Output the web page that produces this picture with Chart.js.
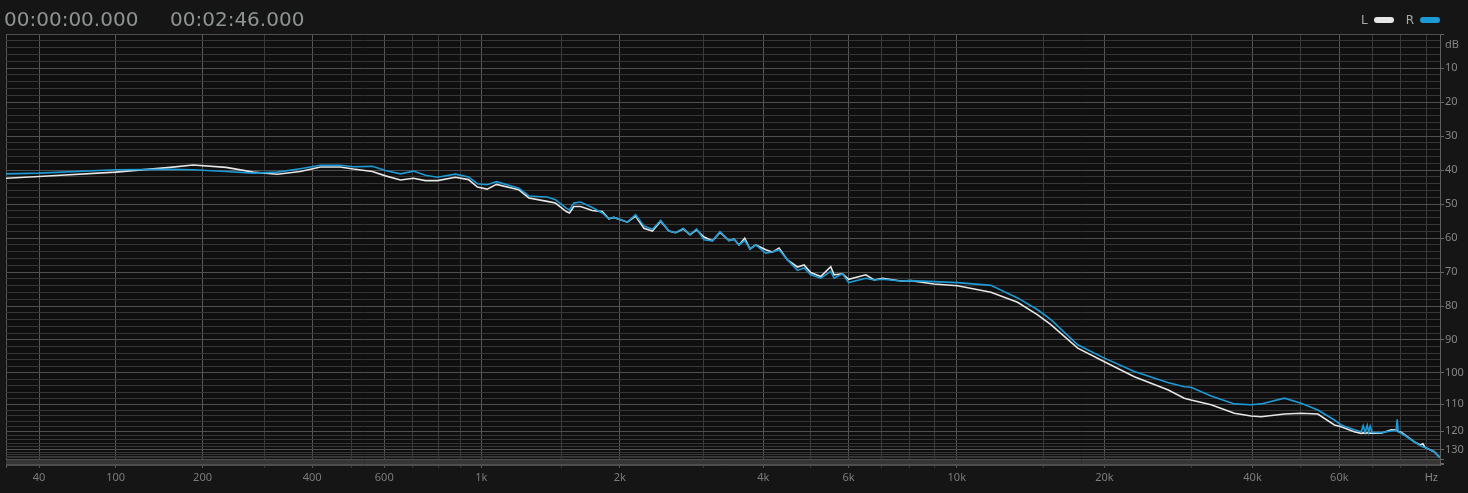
<!DOCTYPE html>
<html>
<head>
<meta charset="utf-8">
<title>Spectrum</title>
<script src="https://cdn.jsdelivr.net/npm/chart.js@4.4.1/dist/chart.umd.min.js"></script>
<style>
  html, body { margin: 0; padding: 0; background: #151515; }
  #wrap { position: relative; width: 1468px; height: 493px; overflow: hidden; }
  canvas { position: absolute; left: 0; top: 0; }
  .time { position: absolute; top: 9px; font: 20px/20px "DejaVu Sans", sans-serif; color: #8e9490; white-space: nowrap; }
  #legend { position: absolute; right: 28px; top: 14px; display: flex; align-items: center;
            font: 12px/12px "DejaVu Sans", sans-serif; color: #a8a8a8; }
  #legend .pill { width: 20px; height: 6px; border-radius: 3px; margin-left: 6px; }
  #legend .item { display: flex; align-items: center; margin-left: 12px; }
</style>
</head>
<body>
<div id="wrap">
  <canvas id="spectrum" width="1468" height="493"></canvas>
  <div class="time" style="left:4px">00:00:00.000</div>
  <div class="time" style="left:170px">00:02:46.000</div>
  <div id="legend"></div>
</div>
<script>
// frequency (Hz) and level below full scale (dB)
const freqHz = [
    20, 40, 100, 158, 187, 235, 280, 325, 373, 420, 470, 506, 562, 604, 655, 702, 748, 797, 875, 937,
    981, 1031, 1081, 1211, 1274, 1396, 1455, 1535, 1560, 1594, 1648, 1746, 1834, 1895, 1942, 2074, 2159, 2249, 2343, 2439,
    2539, 2623, 2722, 2811, 2903, 3008, 3132, 3249, 3393, 3475, 3560, 3658, 3752, 3856, 4045, 4176, 4310, 4486, 4705, 4855,
    5012, 5256, 5512, 5599, 5827, 6000, 6509, 6770, 7045, 7682, 8054, 8985, 10036, 11742, 13309, 14624, 15563, 17648, 20000, 23011,
    26909, 29072, 30000, 32956, 36743, 39729, 41632, 46420, 50193, 54271, 58649, 60512, 64313, 66452, 67075, 67700, 68342, 68800, 69309, 69900,
    72962, 76448, 78200, 78623, 79000, 80106, 85109, 87500, 88644, 89500, 93446, 96000
];
const levelL = [
    42.4, 41.9, 40.6, 39.2, 38.5, 39.2, 40.6, 41.2, 40.4, 39.1, 39.1, 39.7, 40.4, 41.7, 42.9, 42.4, 43.1, 43.1, 42.1, 42.8,
    45.0, 45.6, 44.2, 45.8, 48.2, 49.2, 49.7, 52.2, 52.6, 50.7, 50.7, 51.9, 52.2, 54.3, 53.9, 55.3, 53.5, 57.1, 57.9, 55.0,
    57.9, 58.4, 57.3, 59.0, 57.6, 59.7, 60.8, 58.3, 60.7, 60.3, 62.0, 60.0, 63.2, 62.0, 63.4, 64.1, 62.9, 66.4, 68.5, 67.9,
    70.1, 71.3, 68.4, 70.8, 70.5, 72.1, 70.8, 72.3, 71.8, 72.6, 72.5, 73.5, 74.0, 75.9, 78.9, 82.6, 85.5, 92.5, 96.6, 101.2,
    105.3, 108.0, 108.6, 110.2, 113.1, 114.1, 114.4, 113.4, 113.1, 113.4, 117.5, 118.2, 120.3, 121.0, 120.8, 121.0, 120.8, 121.0, 120.9, 121.0,
    121.0, 119.5, 119.6, 119.8, 120.2, 120.5, 125.1, 127.0, 126.3, 128.5, 131.6, 137.7
];
const levelR = [
    41.1, 40.9, 39.9, 39.8, 39.9, 40.4, 40.9, 40.6, 39.6, 38.6, 38.6, 39.0, 38.9, 40.1, 41.1, 40.3, 41.5, 42.1, 41.2, 42.0,
    44.0, 44.3, 43.4, 45.3, 47.6, 47.9, 48.7, 51.2, 51.7, 49.7, 49.4, 51.0, 52.6, 54.3, 53.9, 55.3, 53.1, 56.4, 57.4, 54.8,
    57.9, 58.4, 57.1, 59.0, 57.3, 60.5, 60.8, 58.1, 60.7, 60.3, 62.0, 60.7, 63.2, 62.0, 64.4, 64.1, 63.4, 66.4, 69.5, 68.8,
    70.8, 71.8, 69.8, 71.8, 70.5, 73.1, 71.8, 72.3, 72.1, 72.6, 72.5, 72.8, 73.1, 73.9, 77.6, 81.1, 84.0, 91.5, 95.5, 99.6,
    103.0, 104.3, 104.5, 107.3, 109.9, 110.2, 109.9, 108.0, 109.7, 112.0, 115.6, 117.5, 119.5, 120.3, 117.8, 120.5, 117.6, 120.5, 118.0, 120.5,
    120.7, 120.0, 119.8, 115.3, 120.3, 121.0, 125.1, 127.2, 128.2, 128.6, 131.6, 137.7
];

// axis ticks
const freqGrid = [20, 40, 100, 200, 300, 400, 500, 600, 700, 800, 900, 1000, 1500, 2000, 3000, 4000, 5000, 6000, 7000, 8000, 9000,
    10000, 15000, 20000, 30000, 40000, 50000, 60000, 70000, 80000, 90000];
const freqTickValues = [40, 100, 200, 400, 600, 1000, 2000, 4000, 6000, 10000, 20000, 40000, 60000];
const freqTickText = ['40', '100', '200', '400', '600', '1k', '2k', '4k', '6k', '10k', '20k', '40k', '60k'];
const levelTickValues = [10, 20, 30, 40, 50, 60, 70, 80, 90, 100, 110, 120, 130];
const levelGridStep = 2;
const levelGridMax = 160;

const FREQ_OFFSET = 100;      // the analyser uses log(f + 100) on the x axis
const AMP_FLOOR = 4.634e-7;   // and log(amplitude + floor) on the y axis

const levelWarp = db => -Math.log10(Math.pow(10, -db / 20) + AMP_FLOOR);

class SpectrumFreqScale extends Chart.LinearScale {
    static id = 'spectrumFreq';
    static defaults = {};
    buildTicks() {
        return freqGrid.map(v => ({ value: v }));
    }
    configure() {
        super.configure();
        this._t0 = Math.log10(this.min + FREQ_OFFSET);
        this._t1 = Math.log10(this.max + FREQ_OFFSET);
    }
    getPixelForValue(v) {
        return this.getPixelForDecimal((Math.log10(v + FREQ_OFFSET) - this._t0) / (this._t1 - this._t0));
    }
    getValueForPixel(p) {
        return Math.pow(10, this._t0 + this.getDecimalForPixel(p) * (this._t1 - this._t0)) - FREQ_OFFSET;
    }
}

class SpectrumLevelScale extends Chart.LinearScale {
    static id = 'spectrumLevel';
    static defaults = {};
    buildTicks() {
        const ticks = [];
        for (let v = 0; v <= levelGridMax; v += levelGridStep) ticks.push({ value: v });
        return ticks;
    }
    configure() {
        super.configure();
        this._t0 = levelWarp(this.min);
        this._t1 = levelWarp(this.max);
    }
    getPixelForValue(v) {
        return this.getPixelForDecimal((levelWarp(v) - this._t0) / (this._t1 - this._t0));
    }
    getValueForPixel(p) {
        const t = this._t0 + this.getDecimalForPixel(p) * (this._t1 - this._t0);
        return -20 * Math.log10(Math.pow(10, -t) - AMP_FLOOR);
    }
}

Chart.register(SpectrumFreqScale, SpectrumLevelScale);

const plotBackground = {
    id: 'plotBackground',
    beforeDraw(chart) {
        const { ctx, chartArea: a } = chart;
        ctx.save();
        ctx.fillStyle = '#0f0f0f';
        ctx.fillRect(a.left, a.top, a.right - a.left, a.bottom - a.top);
        ctx.restore();
    }
};

const unitLabels = {
    id: 'unitLabels',
    afterDraw(chart) {
        const { ctx, chartArea, scales } = chart;
        ctx.save();
        ctx.font = '11px "Noto Sans"';
        ctx.fillStyle = '#858585';
        ctx.textBaseline = 'middle';
        ctx.textAlign = 'left';
        ctx.fillText('dB', scales.y.left + 5, chartArea.top + 11);
        ctx.textAlign = 'right';
        ctx.fillText('Hz', chartArea.right - 2, chartArea.bottom + 13);
        ctx.restore();
    }
};

const axisFont = { family: 'Noto Sans', size: 11 };
const isFreqMajor = c => c.tick && (c.tick.value === 20 || freqTickValues.includes(c.tick.value));
const isLevelMajor = c => c.tick && c.tick.value % 10 === 0;

const series = [
    { label: 'L', values: levelL, color: '#e6e6e6', order: 1 },
    { label: 'R', values: levelR, color: '#1c9ad6', order: 0 }
];

const chart = new Chart(document.getElementById('spectrum'), {
    type: 'line',
    data: {
        datasets: series.map(s => ({
            label: s.label,
            data: freqHz.map((f, i) => ({ x: f, y: s.values[i] })),
            borderColor: s.color,
            backgroundColor: s.color,
            borderWidth: 1.6,
            pointRadius: 0,
            fill: false,
            order: s.order
        }))
    },
    options: {
        responsive: false,
        animation: false,
        devicePixelRatio: 1,
        layout: { padding: { left: 6, top: 34, right: 0, bottom: 0 } },
        plugins: { legend: { display: false }, tooltip: { enabled: false } },
        scales: {
            x: {
                type: 'spectrumFreq',
                position: 'bottom',
                min: 20,
                max: 96000,
                afterFit: s => { s.height = 28; },
                grid: {
                    color: c => isFreqMajor(c) ? '#575757' : '#3a3a3a',
                    tickColor: c => isFreqMajor(c) ? '#575757' : '#3a3a3a',
                    tickLength: 3
                },
                border: { color: '#4c4c4c' },
                ticks: {
                    autoSkip: false,
                    maxRotation: 0,
                    padding: 3,
                    color: '#7c7c7c',
                    font: axisFont,
                    callback: v => {
                        const i = freqTickValues.indexOf(v);
                        return i < 0 ? '' : freqTickText[i];
                    }
                }
            },
            y: {
                type: 'spectrumLevel',
                position: 'right',
                reverse: true,
                min: 0,
                max: 200,
                afterFit: s => { s.width = 28; },
                grid: {
                    color: c => isLevelMajor(c) ? '#4f4f4f' : '#363636',
                    tickColor: c => isLevelMajor(c) ? '#666666' : 'transparent',
                    tickLength: 4
                },
                border: { color: '#5e5e5e' },
                ticks: {
                    autoSkip: false,
                    padding: 1,
                    color: '#858585',
                    font: axisFont,
                    callback: v => levelTickValues.includes(v) ? String(v) : ''
                }
            }
        }
    },
    plugins: [plotBackground, unitLabels]
});

// legend: text first, then a rounded swatch, like the analyser
const legend = document.getElementById('legend');
chart.data.datasets.forEach(ds => {
    const item = document.createElement('span');
    item.className = 'item';
    const text = document.createElement('span');
    text.textContent = ds.label;
    const pill = document.createElement('span');
    pill.className = 'pill';
    pill.style.background = ds.borderColor;
    item.appendChild(text);
    item.appendChild(pill);
    legend.appendChild(item);
});
</script>
</body>
</html>
